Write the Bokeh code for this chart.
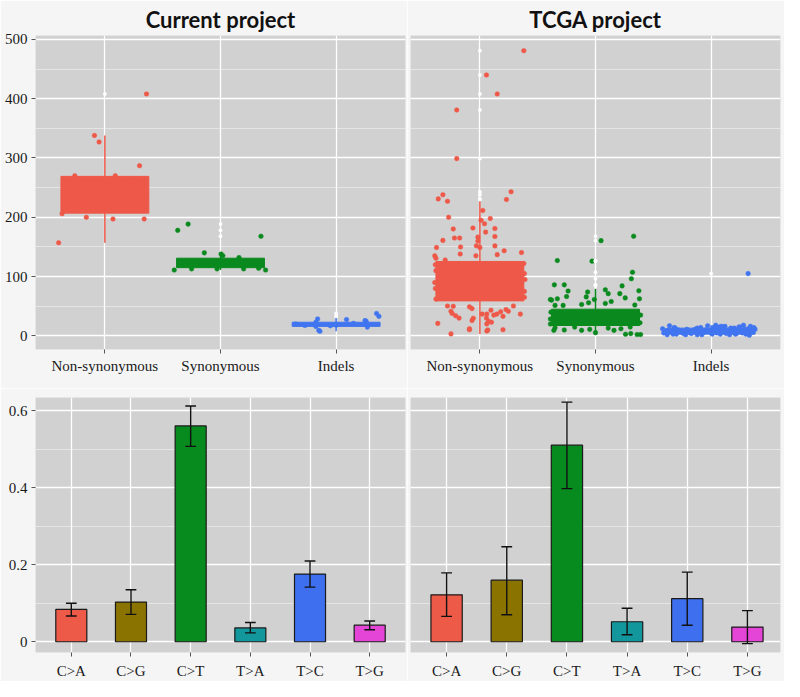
from bokeh.plotting import figure
from bokeh.models import FixedTicker, Range1d
from bokeh.layouts import gridplot
from bokeh.embed import file_html
from bokeh.resources import INLINE

# ---------------- data ----------------
categories = ["Non-synonymous", "Synonymous", "Indels"]
mutations = ["C>A", "C>G", "C>T", "T>A", "T>C", "T>G"]
y_ticks_top = [0, 100, 200, 300, 400, 500]
y_minor_top = [50, 150, 250, 350, 450]
y_ticks_bottom = [0, 0.2, 0.4, 0.6]
y_minor_bottom = [0.1, 0.3, 0.5]

# Current project: per-sample counts and their horizontal jitter
cur_ns_val = [157, 338, 327, 408, 287, 200, 197, 197, 206, 270, 270, 245, 225, 260]
cur_ns_jit = [-0.40, -0.09, -0.05, 0.36, 0.30, -0.16, 0.07, 0.34, -0.37, -0.26, 0.09, 0.02, -0.20, 0.25]
cur_syn_val = [178, 188.5, 168, 140, 111, 111, 113, 113, 138, 135, 132, 113, 114, 120, 125]
cur_syn_jit = [-0.37, -0.28, 0.35, -0.14, -0.40, 0.39, -0.25, -0.03, 0.005, 0.02, 0.16, 0.20, 0.33, -0.10, 0.10]
cur_ind_val = [28.5, 23, 9.3, 16, 27.4, 24.7, 14.8, 37.8, 32.9, 17.6, 7.7, 25.8, 20, 18, 21, 17]
cur_ind_jit = [-0.16, -0.175, -0.15, -0.175, 0.09, 0.26, 0.27, 0.35, 0.37, -0.27, -0.14, 0.25, -0.35, 0.0, 0.15, -0.05]

# TCGA project
tcga_ns_val = [481, 440, 408, 381, 299, 243, 238, 231, 230,
               227, 211.5, 200, 198, 195, 189, 180.3, 182, 181, 175, 167.6, 165, 165, 166.5, 161, 160,
               152, 149, 151.7, 150, 149, 137, 143.5, 138, 135, 140.5, 135, 131, 128,
               120, 105, 90, 75, 110, 65, 95, 80, 62, 122,
               50.4, 49.9, 48.9, 46, 41.6, 37.8, 34, 30, 43.3, 36.7, 40.6, 44.4, 41.6, 50.4, 36.7,
               36.7, 35, 30, 24.7, 23, 32.9, 29.6, 25.8, 36.7, 21, 12, 10, 10.4, 3.3, 20.2, 8.2, 10.4]
tcga_ns_jit = [0.38, 0.057, 0.15, -0.20, -0.20, 0.27, -0.32, -0.36, 0.23,
               -0.28, 0.025, -0.27, 0.09, 0.01, 0.04, -0.23, -0.06, 0.13, 0.05, 0.13, -0.22, -0.175, -0.017, -0.32, -0.017,
               -0.03, 0.0, 0.13, -0.167, -0.375, 0.15, 0.21, -0.17, -0.034, 0.36, -0.39, -0.38, -0.30,
               -0.385, 0.385, -0.39, 0.385, -0.38, 0.385, 0.39, -0.385, -0.38, 0.38,
               -0.28, -0.23, -0.09, -0.068, -0.25, -0.24, -0.21, -0.18, 0.096, 0.147, 0.18, 0.226, 0.246, 0.29, 0.35,
               0.06, 0.12, 0.057, 0.076, 0.10, 0.20, -0.057, -0.068, 0.02, -0.364, -0.09, 0.068, 0.20, -0.25, 0.06, 0.06, -0.09]
tcga_syn_val = [160.6, 168.1, 127, 126, 107.3, 96.4, 86, 86, 84.3,
                75.6, 77.7, 76, 74, 71.2, 71.2, 66.3, 62.5, 60.3, 65.7, 61.3, 64, 62.5, 58, 54.7, 53, 51.4, 51.4, 52, 55.9, 61.3,
                28.4, 35, 22, 40, 20,
                13.7, 9.9, 9.3, 14.8, 13.1, 9.3, 12, 2.8, 3.8, 2.2, 2.2, 9.3, 5.4, 15, 11]
tcga_syn_jit = [0.048, 0.33, -0.33, -0.03, 0.32, 0.31, -0.356, -0.27, 0.23,
                -0.237, 0.085, 0.375, -0.068, 0.11, 0.21, -0.25, -0.33, -0.38, -0.08, -0.01, 0.257, 0.38, 0.136, 0.085, -0.12, -0.28, -0.35, 0.34, -0.06, -0.39,
                -0.39, 0.39, 0.385, -0.385, -0.39,
                -0.35, -0.27, -0.12, -0.18, 0.11, 0.16, 0.22, 0.26, 0.305, 0.36, 0.39, -0.36, 0.0, 0.30, -0.05]
tcga_ind_val = [12, 5, 2, 17, 8, 3, 10, 6, 2, 9, 4, 11, 7, 2, 10, 17, 5, 14, 18, 8, 3, 12, 16, 6, 2,
                10, 13, 4, 15, 8, 18, 3, 12, 16, 6, 11, 9, 14, 13, 15, 1, 7, 105,
                6, 9, 3, 13, 7, 4, 11, 5, 8, 2, 14, 6, 9, 3, 12, 5, 16, 7, 4, 10, 13, 6, 3, 9, 15, 5, 11, 4, 8, 14]
tcga_ind_jit = [-0.42, -0.41, -0.38, -0.36, -0.34, -0.30, -0.28, -0.25, -0.22, -0.20, -0.17, -0.14, -0.11, -0.08, -0.05,
                -0.03, 0.0, 0.02, 0.04, 0.06, 0.08, 0.10, 0.12, 0.14, 0.16, 0.18, 0.20, 0.22, 0.24, 0.26, 0.28,
                0.30, 0.32, 0.34, 0.36, 0.38, -0.39, -0.32, -0.12, 0.07, 0.33, 0.30, 0.32,
                -0.40, -0.37, -0.33, -0.31, -0.27, -0.24, -0.21, -0.18, -0.15, -0.12, -0.09, -0.06, -0.02, 0.01,
                0.03, 0.05, 0.09, 0.11, 0.13, 0.15, 0.17, 0.19, 0.21, 0.23, 0.25, 0.27, 0.29, 0.31, 0.35, 0.37]

# box statistics per category (Non-synonymous, Synonymous, Indels)
cur_q1 = [207, 115, 16]
cur_med = [240, 121, 19]
cur_q3 = [269, 131, 23]
cur_wlo = [157, 111, 7.7]
cur_whi = [338, 140, 31]
tcga_q1 = [59, 17.5, 3]
tcga_med = [88, 32, 8]
tcga_q3 = [125.5, 45, 13]
tcga_wlo = [3.3, 2, 0.5]
tcga_whi = [228, 79, 18]

# mutation spectrum: mean fraction and error-bar limits
cur_mean = [0.084, 0.103, 0.561, 0.036, 0.176, 0.043]
cur_lo = [0.067, 0.071, 0.508, 0.023, 0.142, 0.031]
cur_hi = [0.100, 0.135, 0.613, 0.050, 0.210, 0.054]
tcga_mean = [0.122, 0.160, 0.511, 0.052, 0.112, 0.038]
tcga_lo = [0.066, 0.070, 0.398, 0.018, 0.043, -0.005]
tcga_hi = [0.179, 0.247, 0.623, 0.087, 0.181, 0.081]

# ---------------- styles ----------------
cat_colors = ["#EE5848", "#0A8A1E", "#4175F0"]
mut_colors = ["#EE5A48", "#8B7300", "#078A1E", "#12979C", "#3E6FEE", "#E445D6"]
PANEL = "#d1d1d1"
BG = "#f5f5f5"
SERIF = "Liberation Serif"


def style(p, xticks, xlabels, yticks, yminor, left, xstandoff):
    p.background_fill_color = PANEL
    p.border_fill_color = BG
    p.outline_line_color = None
    tick_y = FixedTicker(ticks=yticks, minor_ticks=yminor)
    tick_x = FixedTicker(ticks=xticks, minor_ticks=[])
    p.xgrid.ticker = tick_x
    p.ygrid.ticker = tick_y
    for g in (p.xgrid, p.ygrid):
        g.grid_line_color = "white"
        g.grid_line_width = 1.3
    p.ygrid.minor_grid_line_color = "white"
    p.ygrid.minor_grid_line_alpha = 0.55
    p.ygrid.minor_grid_line_width = 0.8
    ax = p.xaxis[0]
    ax.ticker = tick_x
    ax.major_label_overrides = {t: l for t, l in zip(xticks, xlabels)}
    axes = [ax]
    if left:
        ay = p.yaxis[0]
        ay.ticker = tick_y
        axes.append(ay)
    for a in axes:
        a.axis_line_color = None
        a.major_tick_line_color = "#555555"
        a.major_tick_out = 4
        a.major_tick_in = 0
        a.minor_tick_out = 0
        a.minor_tick_in = 0
        a.major_label_text_font = SERIF
        a.major_label_text_font_size = "15px"
        a.major_label_text_color = "#1a1a1a"
        a.major_label_standoff = 4
    ax.major_label_standoff = xstandoff


def top_fig(title, offset, vals, jits, q1, med, q3, wlo, whi, left):
    p = figure(width=407 if left else 377, height=388,
               x_range=Range1d(0.4, 3.6), y_range=Range1d(-23, 506.6),
               output_backend="svg", toolbar_location=None,
               y_axis_location="left" if left else None,
               min_border_left=35 if left else 3, min_border_right=2 if left else 4,
               min_border_top=35, min_border_bottom=39, title=title)
    p.title.text_font = "Lato"
    p.title.text_font_size = "22px"
    p.title.text_font_style = "bold"
    p.title.text_color = "#111111"
    p.title.align = "center"
    p.title.offset = offset
    p.title.standoff = 6
    style(p, [1, 2, 3], categories, y_ticks_top, y_minor_top, left, 4)
    for i in range(3):
        xc = i + 1
        c = cat_colors[i]
        p.segment(x0=[xc], y0=[wlo[i]], x1=[xc], y1=[whi[i]], line_color=c, line_width=1.5)
        p.quad(left=[xc - 0.38], right=[xc + 0.38], bottom=[q1[i]], top=[q3[i]],
               fill_color=c, line_color=c, line_width=1)
        p.segment(x0=[xc - 0.38], y0=[med[i]], x1=[xc + 0.38], y1=[med[i]], line_color=c, line_width=1.5)
        xs = [xc + j for j in jits[i]]
        p.scatter(x=xs, y=vals[i], size=4.6, fill_color=c, line_color=c, line_width=0.5)
        outl = [v for v in vals[i] if v > whi[i] or v < wlo[i]]
        p.scatter(x=[xc] * len(outl), y=outl, size=3.8, fill_color="white", line_color=None)
    return p


def bottom_fig(mean, lo, hi, left):
    p = figure(width=407 if left else 377, height=293,
               x_range=Range1d(0.4, 6.6) if left else Range1d(0.4, 6.55),
               y_range=Range1d(-0.028, 0.635),
               output_backend="svg", toolbar_location=None,
               y_axis_location="left" if left else None,
               min_border_left=35 if left else 3, min_border_right=2 if left else 4,
               min_border_top=9, min_border_bottom=26)
    xs = list(range(1, 7))
    style(p, xs, mutations, y_ticks_bottom, y_minor_bottom, left, 6)
    if left:
        p.yaxis[0].major_label_overrides = {0: "0", 0.2: "0.2", 0.4: "0.4", 0.6: "0.6"}
    p.vbar(x=xs, top=mean, bottom=0, width=0.52, fill_color=mut_colors,
           line_color="#1a1a1a", line_width=1.2)
    p.segment(x0=xs, y0=lo, x1=xs, y1=hi, line_color="#111111", line_width=1.4)
    cw = 0.09
    p.segment(x0=[x - cw for x in xs], y0=hi, x1=[x + cw for x in xs], y1=hi,
              line_color="#111111", line_width=1.4)
    p.segment(x0=[x - cw for x in xs], y0=lo, x1=[x + cw for x in xs], y1=lo,
              line_color="#111111", line_width=1.4)
    return p


p1 = top_fig("Current project", 16, [cur_ns_val, cur_syn_val, cur_ind_val],
             [cur_ns_jit, cur_syn_jit, cur_ind_jit], cur_q1, cur_med, cur_q3, cur_wlo, cur_whi, True)
p2 = top_fig("TCGA project", 10, [tcga_ns_val, tcga_syn_val, tcga_ind_val],
             [tcga_ns_jit, tcga_syn_jit, tcga_ind_jit], tcga_q1, tcga_med, tcga_q3, tcga_wlo, tcga_whi, False)
p3 = bottom_fig(cur_mean, cur_lo, cur_hi, True)
p4 = bottom_fig(tcga_mean, tcga_lo, tcga_hi, False)

grid = gridplot([[p1, p2], [p3, p4]], toolbar_location=None)

open("out.html", "w").write(file_html(grid, INLINE))
